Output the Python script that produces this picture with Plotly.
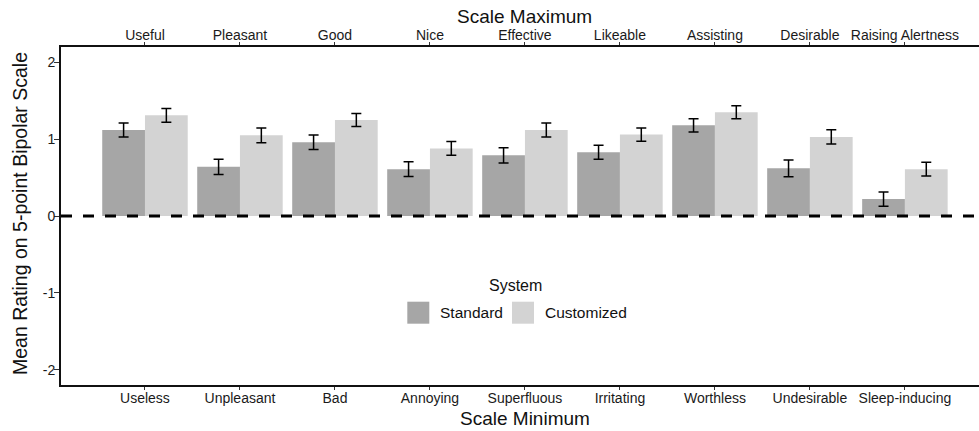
import plotly.graph_objects as go

# Semantic differential items: positive pole (top axis) and negative pole (bottom axis)
scale_max = ["Useful", "Pleasant", "Good", "Nice", "Effective", "Likeable",
             "Assisting", "Desirable", "Raising Alertness"]
scale_min = ["Useless", "Unpleasant", "Bad", "Annoying", "Superfluous", "Irritating",
             "Worthless", "Undesirable", "Sleep-inducing"]

# Mean ratings and standard errors per system
standard_mean = [1.12, 0.64, 0.96, 0.61, 0.79, 0.83, 1.18, 0.62, 0.22]
standard_se = [0.09, 0.10, 0.095, 0.095, 0.10, 0.09, 0.087, 0.11, 0.093]
customized_mean = [1.31, 1.05, 1.25, 0.88, 1.12, 1.06, 1.35, 1.03, 0.61]
customized_se = [0.09, 0.095, 0.085, 0.09, 0.09, 0.087, 0.085, 0.093, 0.09]

y_ticks = [-2, -1, 0, 1, 2]
y_tick_labels = ["-2", "-1", "0", "1", "2"]

COL_STD = "#A6A6A6"
COL_CUS = "#D3D3D3"
FONT = "Liberation Sans, Arial, Helvetica, sans-serif"

W, H = 979, 431
ML, MR, MT, MB = 61, 0, 47, 46
PW, PH = W - ML - MR, H - MT - MB

def px(xp):
    return (xp - ML) / PW

def py(yp):
    return (H - MB - yp) / PH

pos = list(range(1, len(scale_max) + 1))

err_style = dict(type="data", color="black", thickness=1.5, width=5)

fig = go.Figure()
fig.add_trace(go.Bar(
    x=pos, y=standard_mean, name="Standard", marker_color=COL_STD,
    marker_line_width=0,
    error_y=dict(array=standard_se, **err_style), showlegend=False,
))
fig.add_trace(go.Bar(
    x=pos, y=customized_mean, name="Customized", marker_color=COL_CUS,
    marker_line_width=0,
    error_y=dict(array=customized_se, **err_style), showlegend=False,
))

x_range = [0.116, 9.78]
tick_font = dict(family=FONT, size=14, color="#1a1a1a")

axis_common = dict(
    showgrid=False, zeroline=False, showline=True, linecolor="#111",
    linewidth=2, ticks="outside", tickwidth=1.2, tickcolor="#333",
    tickfont=tick_font, fixedrange=True,
)

fig.update_layout(
    width=W, height=H,
    margin=dict(l=ML, r=MR, t=MT, b=MB, pad=0),
    paper_bgcolor="white", plot_bgcolor="white",
    barmode="group", bargap=0.1, bargroupgap=0,
    font=dict(family=FONT),
    xaxis=dict(
        range=x_range, tickmode="array", tickvals=pos, ticktext=scale_min,
        ticklen=3, ticklabelstandoff=-4, **axis_common,
    ),
    xaxis2=dict(
        range=x_range, tickmode="array", tickvals=pos, ticktext=scale_max,
        overlaying="x", side="top", anchor="y",
        ticklen=3, ticklabelstandoff=-4, **axis_common,
    ),
    yaxis=dict(
        range=[-2.2, 2.2], tickmode="array", tickvals=y_ticks,
        ticktext=y_tick_labels,
        ticklen=5, ticklabelstandoff=-4, **axis_common,
    ),
)

# Invisible trace so the top axis is rendered
fig.add_trace(go.Scatter(x=[pos[0]], y=[0], xaxis="x2", mode="markers",
                         marker=dict(opacity=0), showlegend=False, hoverinfo="skip"))

# Neutral reference line at zero
fig.add_shape(type="line", xref="paper", yref="y", x0=0, x1=1, y0=0, y1=0,
              line=dict(color="black", width=3, dash="11px,11px"))

annotations = [
    dict(text="Scale Maximum", x=px(524.7), y=py(16), xref="paper", yref="paper",
         showarrow=False, font=dict(family=FONT, size=19, color="#111"),
         xanchor="center", yanchor="middle"),
    dict(text="Scale Minimum", x=px(524.7), y=py(418), xref="paper", yref="paper",
         showarrow=False, font=dict(family=FONT, size=19, color="#111"),
         xanchor="center", yanchor="middle"),
    dict(text="Mean Rating on 5-point Bipolar Scale", x=px(20), y=py(214),
         xref="paper", yref="paper", showarrow=False, textangle=-90,
         font=dict(family=FONT, size=19.5, color="#111"),
         xanchor="center", yanchor="middle"),
    dict(text="System", x=px(515.7), y=py(285.7), xref="paper", yref="paper",
         showarrow=False, font=dict(family=FONT, size=16, color="#111"),
         xanchor="center", yanchor="middle"),
    dict(text="Standard", x=px(438), y=py(312.7), xref="paper", yref="paper",
         showarrow=False, font=dict(family=FONT, size=15.5, color="#111"),
         xanchor="left", yanchor="middle"),
    dict(text="Customized", x=px(543), y=py(312.7), xref="paper", yref="paper",
         showarrow=False, font=dict(family=FONT, size=15.5, color="#111"),
         xanchor="left", yanchor="middle"),
]
fig.update_layout(annotations=annotations)

# Legend swatches
for x0, col in [(407.3, COL_STD), (512.0, COL_CUS)]:
    fig.add_shape(type="rect", xref="paper", yref="paper",
                  x0=px(x0), x1=px(x0 + 22), y0=py(323.7), y1=py(301.7),
                  fillcolor=col, line=dict(width=0))

fig.write_html("out.html")
